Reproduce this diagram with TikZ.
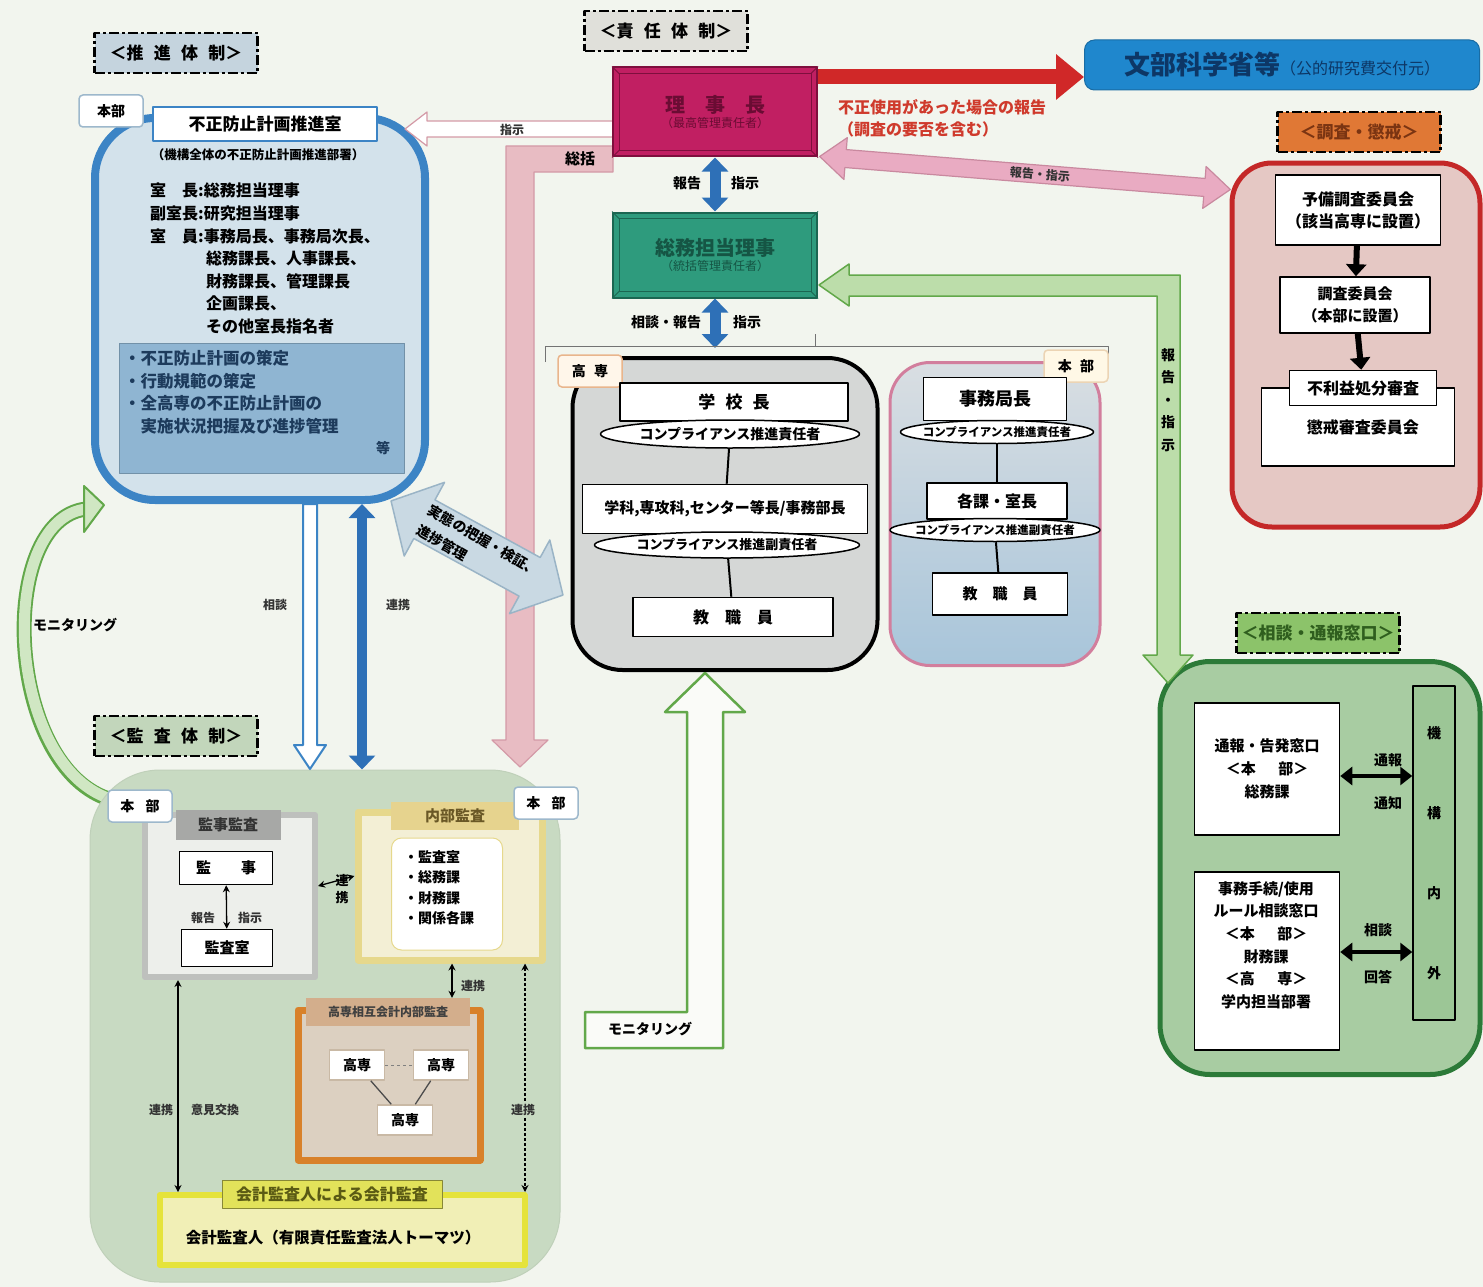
\documentclass[tikz,border=0pt]{standalone}
\usepackage{fontspec}
\setmainfont{Noto Sans CJK JP}
\usetikzlibrary{arrows.meta,shapes.geometric}

\definecolor{bgc}{HTML}{F2F5EE}
\definecolor{lblpromote}{HTML}{C5D4DE}
\definecolor{lblresp}{HTML}{E0E0DA}
\definecolor{lblaudit}{HTML}{C2D6BB}
\definecolor{lblinvest}{HTML}{E07835}
\definecolor{lblinvesttext}{HTML}{7A3412}
\definecolor{lblconsult}{HTML}{8CC36A}
\definecolor{lblconsulttext}{HTML}{2F5E1E}
\definecolor{promoteedge}{HTML}{3C84C5}
\definecolor{promotefill}{HTML}{D3E2EB}
\definecolor{planfill}{HTML}{8FB5D2}
\definecolor{plantext}{HTML}{1D3B5C}
\definecolor{tabedge}{HTML}{9DB8CC}
\definecolor{rijifill}{HTML}{C11F62}
\definecolor{rijiedge}{HTML}{7E0F3D}
\definecolor{rijitext}{HTML}{6A0C33}
\definecolor{soumufill}{HTML}{2E9B7D}
\definecolor{soumuedge}{HTML}{1B6651}
\definecolor{soumutext}{HTML}{155544}
\definecolor{mextfill}{HTML}{1F87CD}
\definecolor{mexttext}{HTML}{0D3766}
\definecolor{redarrow}{HTML}{D02828}
\definecolor{redtext}{HTML}{CF3A2C}
\definecolor{pinkfill}{HTML}{E9ABC2}
\definecolor{pinkedge}{HTML}{C9899F}
\definecolor{summaryfill}{HTML}{E8BCC3}
\definecolor{summaryedge}{HTML}{D49AA7}
\definecolor{linkblue}{HTML}{2E70B7}
\definecolor{kosenfill}{HTML}{D5D7D6}
\definecolor{kosentab}{HTML}{FFF6EA}
\definecolor{kosentabedge}{HTML}{E9B58C}
\definecolor{honbutop}{HTML}{D9DEE2}
\definecolor{honbubottom}{HTML}{A8C5DA}
\definecolor{honbuedge}{HTML}{D27E9D}
\definecolor{honbutab}{HTML}{FFF8E6}
\definecolor{investfill}{HTML}{E5C8C4}
\definecolor{investedge}{HTML}{C42828}
\definecolor{consultfill}{HTML}{A8CCA2}
\definecolor{consultedge}{HTML}{2C7A38}
\definecolor{barfill}{HTML}{9CC696}
\definecolor{greenedge}{HTML}{62A84A}
\definecolor{greenfill}{HTML}{BCDDAA}
\definecolor{realityfill}{HTML}{C9D9E3}
\definecolor{realityedge}{HTML}{9AB4C6}
\definecolor{auditfill}{HTML}{C8DAC2}
\definecolor{auditedge}{HTML}{BFD0B9}
\definecolor{kanjiframe}{HTML}{EDEFEB}
\definecolor{kanjiedge}{HTML}{BEC0BD}
\definecolor{kanjihead}{HTML}{A7A8A6}
\definecolor{internalfill}{HTML}{F3EFD5}
\definecolor{internaledge}{HTML}{E6D88C}
\definecolor{internalhead}{HTML}{E6D38E}
\definecolor{internaltext}{HTML}{6A5826}
\definecolor{mutualfill}{HTML}{DCD0C1}
\definecolor{mutualedge}{HTML}{D8812A}
\definecolor{mutualhead}{HTML}{D3AE8C}
\definecolor{schooledge}{HTML}{C9B9A5}
\definecolor{accountfill}{HTML}{F1EFB6}
\definecolor{accountedge}{HTML}{E5E33B}
\definecolor{accounthead}{HTML}{E2E25A}
\definecolor{accounttext}{HTML}{5A5A14}

\newcommand{\jfs}[2]{\fontsize{#1}{#2}\selectfont}
\newcommand{\jgap}{\hspace{0.6em}}

\begin{document}
\begin{tikzpicture}[x=1pt,y=-1pt,>=Stealth,line join=round]
\tikzstyle{wbox}=[rectangle,draw,fill=white,line width=1.5pt,font=\bfseries\jfs{16}{20}]
\tikzstyle{tab}=[rectangle,rounded corners=4pt,draw=tabedge,fill=white,line width=1.5pt,minimum width=64pt,minimum height=32pt,font=\bfseries\jfs{14}{14}]
\tikzstyle{dlabel}=[rectangle,draw,line width=2.5pt,dash pattern=on 10pt off 3pt on 3pt off 3pt,minimum width=163pt,minimum height=40pt,font=\bfseries\jfs{17}{17}]
\tikzstyle{oval}=[ellipse,draw,fill=white,line width=1.5pt,inner sep=0pt]
\tikzstyle{txt}=[font=\bfseries\jfs{14}{16}]
\tikzstyle{small}=[font=\bfseries\jfs{12}{12},text=black!80]
\tikzstyle{link}=[{Stealth[length=7pt,width=7pt]}-{Stealth[length=7pt,width=7pt]},line width=1.3pt]
\tikzstyle{thicklink}=[{Triangle[length=12pt,width=18pt]}-{Triangle[length=12pt,width=18pt]},line width=4.5pt]
\tikzstyle{bluelink}=[{Triangle[length=14pt,width=26pt]}-{Triangle[length=14pt,width=26pt]},line width=11pt,draw=linkblue]
\tikzstyle{downarrow}=[-{Triangle[length=12pt,width=20pt]},line width=6pt]
\tikzstyle{school}=[rectangle,draw=schooledge,fill=white,line width=1.5pt,minimum width=55pt,minimum height=30pt,font=\bfseries\jfs{14}{14}]

\useasboundingbox (0,0) rectangle (1483,1287);
\fill[bgc] (0,0) rectangle (1483,1287);

% 見出し
\node[dlabel,fill=lblpromote] (lblpromote) at (176,53) {＜推\jgap 進\jgap 体\jgap 制＞};
\node[dlabel,fill=lblresp] (lblresp) at (666,31) {＜責\jgap 任\jgap 体\jgap 制＞};
\node[dlabel,fill=lblaudit] (lblaudit) at (176,736) {＜監\jgap 査\jgap 体\jgap 制＞};
\node[dlabel,fill=lblinvest,text=lblinvesttext] (lblinvest) at (1359,132) {＜調査・懲戒＞};
\node[dlabel,fill=lblconsult,text=lblconsulttext] (lblconsult) at (1318,633) {＜相談・通報窓口＞};

% 総括
\draw[fill=summaryfill,draw=summaryedge,line width=1.2pt] (613,146) -- (506,146) -- (506,740) -- (492,740) -- (520,767) -- (548,740) -- (534,740) -- (534,172) -- (613,172) -- cycle;
\node[txt,font=\bfseries\jfs{15}{15}] at (580,159) {総括};

% 推進体制
\node[rectangle,rounded corners=60pt,draw=promoteedge,line width=8pt,fill=promotefill,minimum width=330pt,minimum height=382pt] (promote) at (260,309) {};
\node[rectangle,fill=planfill,draw=planfill!80!black,line width=1pt,minimum width=285pt,minimum height=130pt] (plan) at (262,408) {};
\node[tab] (promotetab) at (111,111) {本部};
\node[wbox,draw=promoteedge,minimum width=224pt,minimum height=34pt,font=\bfseries\jfs{17}{17}] (office) at (265,124) {不正防止計画推進室};
\node[txt,font=\bfseries\jfs{12.5}{14}] at (258,155) {（機構全体の不正防止計画推進部署）};
\node[anchor=north west,align=left,inner sep=0pt,font=\bfseries\jfs{16}{22.6}] (members) at (150,183) {室\hspace{1em}長:総務担当理事\\副室長:研究担当理事\\室\hspace{1em}員:事務局長、事務局次長、\\\hspace*{3.5em}総務課長、人事課長、\\\hspace*{3.5em}財務課長、管理課長\\\hspace*{3.5em}企画課長、\\\hspace*{3.5em}その他室長指名者};
\node[anchor=north west,align=left,inner sep=0pt,text=plantext,font=\bfseries\jfs{16.5}{22.7}] (duties) at (124,350) {・不正防止計画の策定\\・行動規範の策定\\・全高専の不正防止計画の\\\hspace*{1em}実施状況把握及び進捗管理};
\node[txt,text=plantext] at (383,448) {等};

% 指示
\draw[fill=white,draw=summaryedge,line width=1.2pt] (613,121) -- (427,121) -- (427,112) -- (405,129) -- (427,146) -- (427,137) -- (613,137) -- cycle;
\node[small] at (512,130) {指示};

% 責任体制
\node[rectangle,fill=rijifill,draw=rijiedge,line width=2pt,minimum width=204pt,minimum height=89pt,align=center,text=rijitext] (riji) at (715,112) {{\bfseries\jfs{20}{24}理　事　長}\\[2pt]{\jfs{12}{14}（最高管理責任者）}};
\node[rectangle,fill=soumufill,draw=soumuedge,line width=2pt,minimum width=204pt,minimum height=85pt,align=center,text=soumutext] (soumu) at (715,255) {{\bfseries\jfs{20}{24}総務担当理事}\\[2pt]{\jfs{12}{14}（統括管理責任者）}};
\foreach \n/\e in {riji/rijiedge,soumu/soumuedge} {
  \draw[\e,line width=1pt] ([shift={(7pt,-7pt)}]\n.north west) rectangle ([shift={(-7pt,7pt)}]\n.south east);
  \foreach \c/\s in {north west/{7pt,-7pt},north east/{-7pt,-7pt},south west/{7pt,7pt},south east/{-7pt,7pt}}
    \draw[\e,line width=1pt] (\n.\c) -- ([shift={(\s)}]\n.\c);
}
\node[rectangle,rounded corners=10pt,fill=mextfill,draw=mextfill!80!black,line width=1pt,minimum width=395pt,minimum height=50pt,text=mexttext] (mext) at (1282,65) {{\bfseries\jfs{26}{26}文部科学省等}{\jfs{16}{16}（公的研究費交付元）}};
\draw[line width=15pt,draw=redarrow,-{Triangle[length=28pt,width=44pt]}] (riji.east |- 0,77) -- (mext.west |- 0,77);
\node[anchor=north west,align=left,inner sep=0pt,text=redtext,font=\bfseries\jfs{16}{22}] (redreport) at (838,99) {不正使用があった場合の報告\\（調査の要否を含む）};

% 報告・指示（調査）
\begin{scope}[shift={(1025,173)},rotate=-4.6]
\draw[fill=pinkfill,draw=pinkedge,line width=1.2pt] (-206,0) -- (-180,-21) -- (-180,-9) -- (180,-9) -- (180,-21) -- (206,0) -- (180,21) -- (180,9) -- (-180,9) -- (-180,21) -- cycle;
\node[small,rotate=-4.6] at (15,0) {報告・指示};
\end{scope}

\coordinate (hub) at (715,348);
\draw[bluelink] (riji.south) -- (soumu.north);
\node[txt] at (687,183) {報告};
\node[txt] at (745,183) {指示};
\draw[bluelink] (soumu.south) -- (hub);
\node[txt] at (666,322) {相談・報告};
\node[txt] at (747,322) {指示};
\draw[black!55,line width=1pt] (545,362) -- (545,346) -- (1108,346) -- (1108,356);
\draw[black!55,line width=1pt] (815,346) -- (815,334);

% 高専
\node[rectangle,rounded corners=50pt,draw,line width=4pt,fill=kosenfill,minimum width=305pt,minimum height=312pt] (kosen) at (725,514) {};
\node[tab,fill=kosentab,draw=kosentabedge] (kosentab) at (590,371) {高\hspace{0.6em}専};
\node[wbox,minimum width=228pt,minimum height=38pt,font=\bfseries\jfs{17}{17}] (principal) at (734,402) {学\jgap 校\jgap 長};
\node[oval,minimum width=259pt,minimum height=28pt,below of=principal,node distance=32pt,xshift=-4pt] (princoval) {};
\node[font=\bfseries\jfs{14}{14}] at (princoval) {コンプライアンス推進責任者};
\node[wbox,minimum width=285pt,minimum height=49pt,font=\bfseries\jfs{15}{15},below of=princoval,node distance=75pt,xshift=-5pt] (heads) {学科,専攻科,センター等長/事務部長};
\node[oval,minimum width=265pt,minimum height=26pt,below of=heads,node distance=36pt,xshift=2pt] (headsoval) {};
\node[font=\bfseries\jfs{13}{13}] at (headsoval) {コンプライアンス推進副責任者};
\node[wbox,minimum width=200pt,minimum height=39pt,below of=headsoval,node distance=72pt,xshift=6pt] (staff) {教\hspace{1em}職\hspace{1em}員};
\draw[line width=2pt] (princoval) -- (heads);
\draw[line width=2pt] (headsoval) -- (staff);

% 本部
\node[rectangle,rounded corners=40pt,draw=honbuedge,line width=3pt,top color=honbutop,bottom color=honbubottom,minimum width=210pt,minimum height=303pt] (honbu) at (995,514) {};
\node[tab,fill=honbutab,draw=honbutab!70!brown] (honbutab) at (1076,366) {本\hspace{0.6em}部};
\node[wbox,minimum width=143pt,minimum height=43pt,font=\bfseries\jfs{18}{18}] (secgen) at (995,399) {事務局長};
\node[oval,minimum width=193pt,minimum height=23pt,below of=secgen,node distance=33pt,xshift=2pt] (secgenoval) {};
\node[font=\bfseries\jfs{11.5}{11.5}] at (secgenoval) {コンプライアンス推進責任者};
\node[wbox,minimum width=140pt,minimum height=36pt,below of=secgenoval,node distance=69pt] (sections) {各課・室長};
\node[oval,minimum width=210pt,minimum height=23pt,below of=sections,node distance=29pt,xshift=-2pt] (sectionsoval) {};
\node[font=\bfseries\jfs{11.5}{11.5}] at (sectionsoval) {コンプライアンス推進副責任者};
\node[wbox,minimum width=135pt,minimum height=42pt,font=\bfseries\jfs{15}{15},below of=sectionsoval,node distance=64pt,xshift=5pt] (staff2) {教\hspace{1em}職\hspace{1em}員};
\draw[line width=2pt] (secgenoval) -- (sections);
\draw[line width=2pt] (sectionsoval) -- (staff2);

% 調査・懲戒
\node[rectangle,rounded corners=40pt,draw=investedge,line width=5pt,fill=investfill,minimum width=248pt,minimum height=364pt] (invest) at (1356,345) {};
\node[wbox,minimum width=165pt,minimum height=70pt,align=center,font=\bfseries\jfs{16}{22}] (prelim) at (1358,210) {予備調査委員会\\（該当高専に設置）};
\node[wbox,minimum width=150pt,minimum height=56pt,align=center,font=\bfseries\jfs{15}{22}] (inquiry) at (1355,305) {調査委員会\\（本部に設置）};
\node[wbox,minimum width=193pt,minimum height=78pt] (discipline) at (1358,427) {\hspace{0.6em}懲戒審査委員会};
\node[wbox,minimum width=147pt,minimum height=35pt] (appeal) at (1363,388) {不利益処分審査};
\draw[downarrow] (prelim) -- (inquiry);
\draw[downarrow] (inquiry) -- (appeal);

% 相談・通報窓口
\node[rectangle,rounded corners=50pt,draw=consultedge,line width=5pt,fill=consultfill,minimum width=320pt,minimum height=413pt] (consult) at (1320,868) {};
\node[wbox,minimum width=145pt,minimum height=132pt,align=center,font=\bfseries\jfs{15}{23}] (whistle) at (1267,769) {通報・告発窓口\\＜本\hspace{1.5em}部＞\\総務課};
\node[wbox,minimum width=145pt,minimum height=178pt] (procedure) at (1267,961) {};
\node[align=center,font=\bfseries\jfs{15}{22.6}] at (1266,945) {事務手続/使用\\ルール相談窓口\\＜本\hspace{1.5em}部＞\\財務課\\＜高\hspace{1.5em}専＞\\学内担当部署};
\node[rectangle,draw,line width=1.5pt,fill=barfill,minimum width=42pt,minimum height=334pt,align=center,font=\bfseries\jfs{14}{80}] (inout) at (1434,853) {機\\構\\内\\外};
\draw[thicklink] (whistle.east |- 0,776) -- (inout.west |- 0,776);
\node[txt] at (1388,760) {通報};
\node[txt] at (1388,803) {通知};
\draw[thicklink] (procedure.east |- 0,952) -- (inout.west |- 0,952);
\node[txt] at (1378,930) {相談};
\node[txt] at (1378,977) {回答};

% 報告・指示（窓口）
\draw[fill=greenfill,draw=greenedge,line width=1.5pt] (819,285) -- (849,264) -- (849,275) -- (1180,275) -- (1180,655) -- (1193,655) -- (1168,683) -- (1143,655) -- (1157,655) -- (1157,296) -- (849,296) -- (849,306) -- cycle;
\node[align=center,font=\bfseries\jfs{14}{22.5}] at (1168,400) {報\\告\\・\\指\\示};

% モニタリング（推進室へ）
\draw[line width=15pt,draw=greenedge] (112,800) .. controls (5,770) and (-5,520) .. (86,509);
\draw[line width=11pt,draw=greenfill!70!white] (114,800) .. controls (5,770) and (-5,520) .. (86,509);
\draw[fill=greenfill!70!white,draw=greenedge,line width=2pt] (84,486) -- (104,505) -- (84,532) -- cycle;
\node[txt] at (75,625) {モニタリング};

% 監査体制
\node[rectangle,rounded corners=70pt,fill=auditfill,draw=auditedge,line width=1pt,minimum width=470pt,minimum height=512pt] (audit) at (325,1026) {};
\node[rectangle,fill=kanjiframe,draw=kanjiedge,line width=6pt,minimum width=170pt,minimum height=162pt] (kanjibox) at (230,896) {};
\node[rectangle,fill=kanjihead,minimum width=105pt,minimum height=30pt,font=\bfseries\jfs{15}{15},text=black!80] (kanjihead) at (228,825) {監事監査};
\node[tab] (audittab) at (140,806) {本\hspace{0.8em}部};
\node[wbox,minimum width=93pt,minimum height=33pt,font=\bfseries\jfs{15}{15}] (auditor) at (226,868) {監\hspace{2em}事};
\node[wbox,minimum width=91pt,minimum height=37pt,font=\bfseries\jfs{15}{15}] (auditroom) at (227,948) {監査室};
\draw[link] (auditor) -- (auditroom);
\node[small] at (203,918) {報告};
\node[small] at (250,918) {指示};

\node[rectangle,fill=internalfill,draw=internaledge,line width=7pt,minimum width=184pt,minimum height=148pt] (internal) at (450,886) {};
\node[rectangle,fill=internalhead,minimum width=128pt,minimum height=28pt,text=internaltext,font=\bfseries\jfs{15}{15}] (internalhead) at (455,816) {内部監査};
\node[tab] (internaltab) at (546,803) {本\hspace{0.8em}部};
\node[rectangle,rounded corners=10pt,fill=white,draw=internaledge,line width=1pt,minimum width=111pt,minimum height=112pt] (units) at (447,894) {};
\node[anchor=north west,align=left,inner sep=0pt,font=\bfseries\jfs{14}{20.6}] at (404,850) {・監査室\\・総務課\\・財務課\\・関係各課};
\draw[link] ([yshift=10pt]kanjibox.east) -- ([yshift=10pt]internal.west);
\node[align=center,font=\bfseries\jfs{13}{17}] at (342,889) {連\\携};

\node[rectangle,fill=mutualfill,draw=mutualedge,line width=7pt,minimum width=182pt,minimum height=150pt] (mutual) at (389,1085) {};
\node[rectangle,fill=mutualhead,minimum width=164pt,minimum height=28pt,font=\bfseries\jfs{12}{12},text=black!75] (mutualhead) at (388,1012) {高専相互会計内部監査};
\draw[link] (internal.south -| 452,0) -- (mutualhead.north -| 452,0);
\node[small] at (473,986) {連携};
\node[school] (school1) at (357,1065) {高専};
\node[school] (school2) at (441,1065) {高専};
\node[school] (school3) at (405,1120) {高専};
\draw[black!50,dashed,line width=1pt] (school1) -- (school2);
\draw[black!70,line width=1.3pt] (school1) -- (school3);
\draw[black!70,line width=1.3pt] (school2) -- (school3);

\node[rectangle,fill=accountfill,draw=accountedge,line width=6pt,minimum width=365pt,minimum height=70pt] (account) at (342,1230) {};
\node[rectangle,fill=accounthead,draw=accounthead!60!black,line width=0.8pt,minimum width=220pt,minimum height=28pt,text=accounttext,font=\bfseries\jfs{16}{16}] (accounthead) at (332,1194) {会計監査人による会計監査};
\node[font=\bfseries\jfs{15.5}{15.5}] at (333,1238) {会計監査人（有限責任監査法人トーマツ）};
\draw[link] (kanjibox.south -| 178,0) -- (account.north -| 178,0);
\node[small] at (161,1110) {連携};
\node[small] at (215,1110) {意見交換};
\draw[link,densely dashed] (internal.south -| 525,0) -- (account.north -| 525,0);
\node[small,fill=auditfill,inner sep=1pt] at (523,1110) {連携};

% 相談・連携
\draw[fill=white,draw=promoteedge,line width=2pt] (303,504) -- (303,745) -- (294,745) -- (310,769) -- (326,745) -- (317,745) -- (317,504) -- cycle;
\node[small] at (275,605) {相談};
\draw[bluelink,line width=10pt] (promote.south -| 362,0) -- (audit.north -| 362,0);
\node[small] at (398,605) {連携};

% 実態の把握
\begin{scope}[shift={(477,548)},rotate=-28.7]
\draw[fill=realityfill,draw=realityedge,line width=1.5pt] (-98,0) -- (-60,-42) -- (-60,-22) -- (60,-22) -- (60,-42) -- (98,0) -- (60,42) -- (60,22) -- (-60,22) -- (-60,42) -- cycle;
\end{scope}
\node[rotate=-30,inner sep=0pt,font=\bfseries\jfs{14}{14}] (reality1) at (484,540) {実態の把握・検証、};
\node[rotate=-30,inner sep=0pt,font=\bfseries\jfs{14}{14}] (reality2) at (442,543) {進捗管理};

% モニタリング（高専へ）
\draw[fill=bgc!40!white,draw=greenedge,line width=2.5pt] (585,1012) -- (687,1012) -- (687,712) -- (665,712) -- (705,673) -- (745,712) -- (723,712) -- (723,1048) -- (585,1048) -- cycle;
\node[txt] at (650,1029) {モニタリング};
\end{tikzpicture}
\end{document}
